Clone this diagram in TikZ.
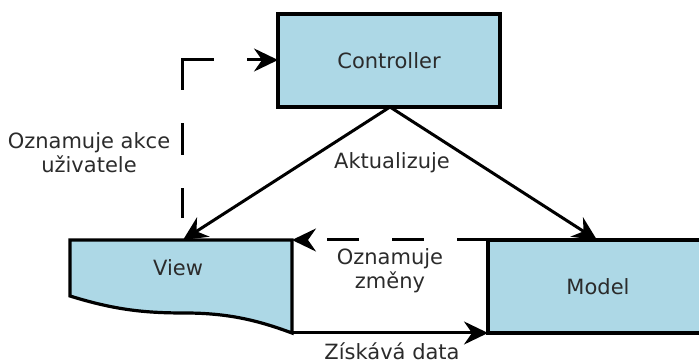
\documentclass[tikz,border=0pt]{standalone}
\usepackage{fontspec}
\setmainfont{DejaVu Sans}
\usetikzlibrary{arrows.meta}
\definecolor{boxfill}{HTML}{ADD8E6}
\definecolor{txtcol}{HTML}{2B2B2B}
\tikzset{
  box/.style={draw=black, fill=boxfill, line width=3.2pt},
  lbl/.style={text=txtcol, font=\fontsize{21}{24}\selectfont, align=center, inner sep=0pt},
  conn/.style={line width=3pt, -{Stealth[length=24pt,width=23pt,inset=8pt]}},
}
\begin{document}
\begin{tikzpicture}[x=1pt,y=-1pt]
\useasboundingbox (0,0) rectangle (699,363);
\begin{scope}
\clip (0,0) rectangle (699,363);
% boxes
\draw[box] (278,14) rectangle (500,107);
\node[lbl] (controller) at (389,60.5) {Controller};
\coordinate (ctrlbot) at (390,107);
\coordinate (ctrlwest) at (278,60);
\draw[box] (488,240) rectangle (712,333);
\node[lbl] (model) at (598,287) {Model};
\coordinate (modelnw) at (488,240);
\coordinate (modelsw) at (488,333);
\coordinate (modeltop) at (597,240);
\draw[box] (70,240) -- (292,240) -- (292,333)
  .. controls (262,322) and (232,313) .. (185,313)
  .. controls (145,313) and (115,310) .. (70,296) -- cycle;
\node[lbl] (view) at (178,268) {View};
\coordinate (viewne) at (292,240);
\coordinate (viewse) at (292,333);
\coordinate (viewtop) at (183,240);
\coordinate (viewdash) at (182,240);
\end{scope}
% connectors
\draw[conn] (ctrlbot) -- (viewtop);
\draw[conn] (ctrlbot) -- (modeltop);
\draw[conn] (viewse) -- (modelsw);
\draw[conn, dash pattern=on 31pt off 33pt on 32pt off 33pt on 32pt off 20pt] (modelnw) -- (viewne);
\draw[conn, dash pattern=on 0pt off 22pt on 30pt off 33pt on 32pt off 33pt on 62pt off 33pt on 60pt off 0pt] (viewdash) -- (182,60) -- (ctrlwest);
% labels
\node[lbl] (akt) at (392,163) {Aktualizuje};
\node[lbl] (zmeny) at (390,271) {Oznamuje\\změny};
\node[lbl] (data) at (392,351) {Získává data};
\node[lbl] (akce) at (89,153) {Oznamuje akce\\uživatele};
\end{tikzpicture}
\end{document}
